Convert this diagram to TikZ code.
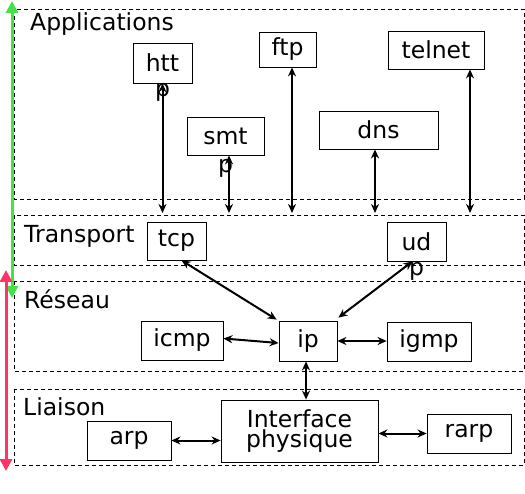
\documentclass[tikz,border=0pt]{standalone}
\usepackage{fontspec}
\setmainfont{DejaVu Sans}
\usetikzlibrary{arrows.meta}
\definecolor{upgreen}{RGB}{68,226,68}
\definecolor{downpink}{RGB}{255,51,102}
\begin{document}
\begin{tikzpicture}[x=1pt,y=-1pt,
  box/.style={draw, line width=0.8pt, inner sep=0pt, fill=white,
              font=\fontsize{23.5}{18}\selectfont},
  layer/.style={draw, dash pattern=on 4pt off 3pt, line width=0.9pt},
  ltitle/.style={anchor=base west, inner sep=0pt, font=\fontsize{23.5}{28}\selectfont},
  plabel/.style={label distance=0pt, inner sep=0pt, font=\fontsize{23.5}{28}\selectfont},
  conn/.style={line width=2pt, {Stealth[length=9pt,width=8pt]}-{Stealth[length=9pt,width=8pt]}},
  side/.style={line width=3pt, {Triangle[length=12pt,width=12pt]}-{Triangle[length=12pt,width=12pt]}}
]
\useasboundingbox (0,0) rectangle (525,494);

% layers
\draw[layer] (14,9) rectangle (524,199);
\draw[layer] (14,215) rectangle (524,265);
\draw[layer] (14,281) rectangle (524,371);
\draw[layer] (14,389) rectangle (524,465);

\node[ltitle] (lapp) at (30,31) {Applications};
\node[ltitle] (ltra) at (24,243) {Transport};
\node[ltitle] (lres) at (24,309) {Réseau};
\node[ltitle] (llia) at (23,415) {Liaison};

% side arrows
\coordinate (gtop) at (12,1);
\coordinate (gbot) at (12,298);
\coordinate (ptop) at (6,270);
\coordinate (pbot) at (6,471);
\draw[side, upgreen] (gbot) -- (gtop);
\draw[side, downpink] (ptop) -- (pbot);

% application nodes
\node[box, minimum width=59pt, minimum height=40pt,
      label={[plabel]below:p}] (http) at (162.5,63) {htt};
\node[box, minimum width=57pt, minimum height=35pt] (ftp) at (287.5,49.5) {ftp};
\node[box, minimum width=96pt, minimum height=38pt] (telnet) at (436,50) {telnet};
\node[box, minimum width=77pt, minimum height=38pt,
      label={[plabel, label distance=4pt]below:p}] (smtp) at (225.5,136) {smt};
\node[box, minimum width=119pt, minimum height=38pt] (dns) at (378.5,130) {dns};

% transport
\node[box, minimum width=59pt, minimum height=38pt] (tcp) at (176.5,241) {tcp};
\node[box, minimum width=59pt, minimum height=39pt,
      label={[plabel, label distance=1pt]below:p}] (udp) at (416.5,241.5) {ud};

% network
\node[box, minimum width=82pt, minimum height=39pt] (icmp) at (182,340.5) {icmp};
\node[box, minimum width=58pt, minimum height=40pt] (ip) at (308,341) {ip};
\node[box, minimum width=84pt, minimum height=39pt] (igmp) at (429,341.5) {igmp};

% link
\node[box, minimum width=157pt, minimum height=62pt, align=center] (iface) at (299.5,431) {Interface\\physique};
\node[box, minimum width=84pt, minimum height=39pt] (arp) at (129,440.5) {arp};
\node[box, minimum width=84pt, minimum height=39pt] (rarp) at (469,433.5) {rarp};

% connectors
\coordinate (ttop) at (0,213);
\draw[conn] (http.south) -- (http.south |- ttop);
\draw[conn] ([xshift=3.5pt]smtp.south) -- ([xshift=3.5pt]smtp.south |- ttop);
\draw[conn] ([xshift=4.5pt]ftp.south) -- ([xshift=4.5pt]ftp.south |- ttop);
\draw[conn] ([xshift=-3.5pt]dns.south) -- ([xshift=-3.5pt]dns.south |- ttop);
\draw[conn] ([xshift=34pt]telnet.south) -- ([xshift=34pt]telnet.south |- ttop);

\draw[conn] ([xshift=5pt]tcp.south) -- ([xshift=-2pt,yshift=1pt]ip.north west);
\draw[conn] ([xshift=-4pt]udp.south) -- ([xshift=1pt,yshift=3pt]ip.north east);
\draw[conn] ([yshift=2pt]icmp.east) -- ([yshift=-2pt]ip.west);
\draw[conn] (ip.east) -- (ip.east -| igmp.west);
\draw[conn] ([xshift=-2pt]ip.south) -- ([xshift=-2pt]ip.south |- iface.north);
\draw[conn] (arp.east) -- (arp.east -| iface.west);
\draw[conn] (rarp.west) -- (rarp.west -| iface.east);
\end{tikzpicture}
\end{document}
